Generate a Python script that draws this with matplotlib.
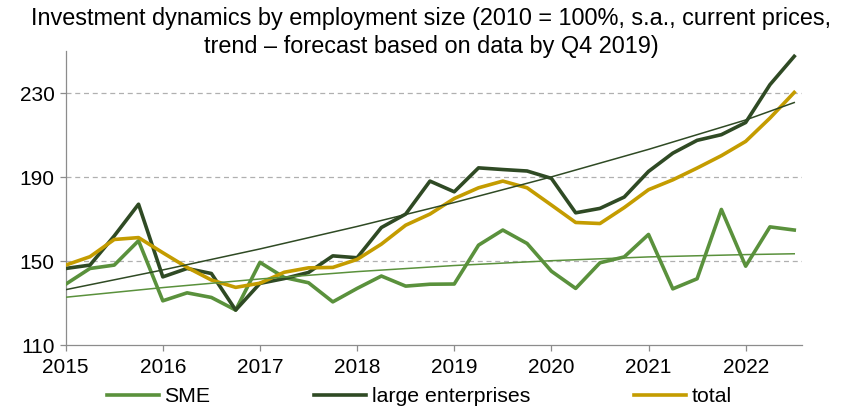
import matplotlib.pyplot as plt
import numpy as np

plt.rcParams.update({"font.family": ["Liberation Sans", "DejaVu Sans"], "font.size": 15})

# Quarterly index values, 2015 Q1 .. 2022 Q3 (2010 = 100%)
sme = [139.0, 146.5, 148.1, 159.7, 131.1, 134.9, 132.7, 126.7,
       149.4, 142.2, 139.7, 130.6, 137.0, 142.9, 138.1, 139.0,
       139.1, 157.6, 164.8, 158.4, 145.2, 137.0, 149.2, 152.0,
       162.7, 136.8, 141.6, 174.6, 147.6, 166.3, 164.8]
large = [146.5, 148.1, 162.0, 177.1, 142.5, 146.5, 144.1, 126.7,
         139.4, 141.7, 144.6, 152.5, 151.6, 166.0, 172.4, 188.1,
         183.0, 194.4, 193.6, 192.9, 189.4, 173.0, 175.1, 180.5,
         192.7, 201.4, 207.5, 210.2, 216.0, 234.0, 247.5]
total = [148.1, 152.1, 160.3, 161.2, 154.0, 147.0, 141.0, 137.5,
         139.5, 144.7, 146.8, 147.0, 150.8, 158.1, 167.1, 172.4,
         179.8, 184.9, 188.1, 184.9, 176.7, 168.4, 167.9, 175.5,
         184.0, 188.7, 194.3, 200.2, 207.0, 218.1, 230.3]

# Trend lines, read at each Q1 and at the last quarter
trend_idx = [0, 4, 8, 12, 16, 20, 24, 28, 30]
trend_large = [136.4, 145.8, 155.8, 166.5, 177.9, 190.1, 203.2, 217.2, 225.5]
trend_sme = [132.8, 137.4, 141.5, 145.0, 147.9, 150.2, 152.0, 153.1, 153.5]

years = list(range(2015, 2023))

c_sme = "#5a913c"
c_large = "#2f4a24"
c_total = "#c49c00"

x = 2015 + np.arange(len(sme)) / 4
xt = 2015 + np.array(trend_idx) / 4

fig = plt.figure(figsize=(8.42, 4.07), dpi=100)
ax = fig.add_axes([0.078, 0.152, 0.8745, 0.7225])

ax.plot(x, sme, color=c_sme, lw=2.6, label="SME", zorder=3)
ax.plot(x, large, color=c_large, lw=2.6, label="large enterprises", zorder=3)
ax.plot(x, total, color=c_total, lw=2.6, label="total", zorder=3)
ax.plot(xt, trend_large, color=c_large, lw=1.1, zorder=4)
ax.plot(xt, trend_sme, color=c_sme, lw=1.1, zorder=4)

ax.set_xlim(2015, 2022.58)
ax.set_ylim(110, 250)
ax.set_xticks(years)
ax.set_xticklabels([str(y) for y in years])
ax.set_yticks([110, 150, 190, 230])

for v in [150, 190, 230]:
    ax.axhline(v, color="#b0b0b0", lw=0.9, ls=(0, (4, 3)), zorder=1)

for s in ["top", "right"]:
    ax.spines[s].set_visible(False)
for s in ["left", "bottom"]:
    ax.spines[s].set_color("#8c8c8c")
    ax.spines[s].set_linewidth(0.9)
ax.tick_params(axis="both", colors="#8c8c8c", labelcolor="black", labelsize=15,
               length=4, width=0.9, direction="out")
ax.tick_params(axis="x", pad=5)
ax.tick_params(axis="y", pad=4)

fig.text(0.512, 0.982,
         "Investment dynamics by employment size (2010 = 100%, s.a., current prices,\n"
         "trend \u2013 forecast based on data by Q4 2019)",
         ha="center", va="top", fontsize=16.9, linespacing=1.25)

fig.legend(loc="center", bbox_to_anchor=(0.498, 0.025), ncol=3, frameon=False,
           fontsize=15.3, handlelength=2.45, columnspacing=4.9, handletextpad=0.25)

fig.savefig("out.png", dpi=100)
